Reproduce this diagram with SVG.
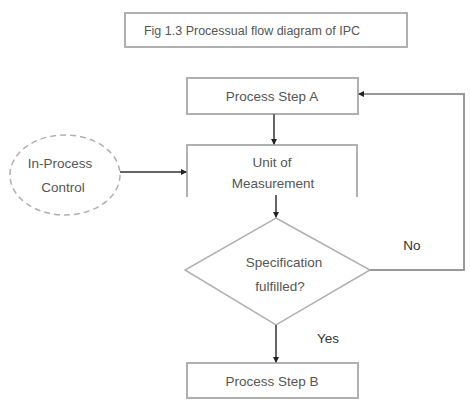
<svg xmlns="http://www.w3.org/2000/svg" width="470" height="407" viewBox="0 0 470 407">
<style>
.box{fill:#fff;stroke:#b0b0b0;stroke-width:2}
.lbl{font-family:"Liberation Sans",Arial,sans-serif;font-size:13.5px;fill:#555;text-anchor:middle}
.con{fill:none;stroke:#666;stroke-width:2}
.fb{fill:none;stroke:#999;stroke-width:2}
</style>
<defs>
<marker id="ah" markerWidth="6" markerHeight="6" refX="5" refY="3" orient="auto" markerUnits="userSpaceOnUse">
<path d="M0,0 L6,3 L0,6 Z" fill="#222"/>
</marker>
</defs>
<rect width="470" height="407" fill="#fff"/>
<g id="title">
<rect class="box" x="125" y="13" width="282" height="34"/>
<text class="lbl" x="252" y="35" style="font-size:12.5px">Fig 1.3 Processual flow diagram of IPC</text>
</g>
<g id="stepA">
<rect class="box" x="187" y="78" width="171" height="36"/>
<text class="lbl" x="272" y="101">Process Step A</text>
</g>
<g id="unit">
<path class="box" d="M187,197 V145 H357 V197"/>
<text class="lbl" x="272" y="167">Unit of</text>
<text class="lbl" x="273" y="188">Measurement</text>
</g>
<g id="ipc">
<ellipse cx="65" cy="175" rx="55" ry="40" fill="#fff" stroke="#b0b0b0" stroke-width="1.5" stroke-dasharray="6,4"/>
<text class="lbl" x="60" y="168">In-Process</text>
<text class="lbl" x="63" y="192">Control</text>
</g>
<g id="decision">
<polygon points="276,218 370,270 276,325 185,270" fill="#fff" stroke="#b0b0b0" stroke-width="1.5"/>
<text class="lbl" x="284" y="267">Specification</text>
<text class="lbl" x="280" y="291">fulfilled?</text>
</g>
<g id="stepB">
<rect class="box" x="187" y="363" width="171" height="35"/>
<text class="lbl" x="272" y="386">Process Step B</text>
</g>
<g id="connectors">
<line class="con" x1="274" y1="114" x2="274" y2="144" marker-end="url(#ah)"/>
<line class="con" x1="120" y1="172" x2="186" y2="172" marker-end="url(#ah)"/>
<line class="con" x1="276" y1="195" x2="276" y2="217" marker-end="url(#ah)"/>
<line class="con" x1="276" y1="325" x2="276" y2="362" marker-end="url(#ah)"/>
<path class="fb" d="M370,270 H464 V94 H359" marker-end="url(#ah)"/>
<text class="lbl" x="412" y="250" style="fill:#333">No</text>
<text class="lbl" x="328" y="343" style="fill:#333">Yes</text>
</g>
</svg>
